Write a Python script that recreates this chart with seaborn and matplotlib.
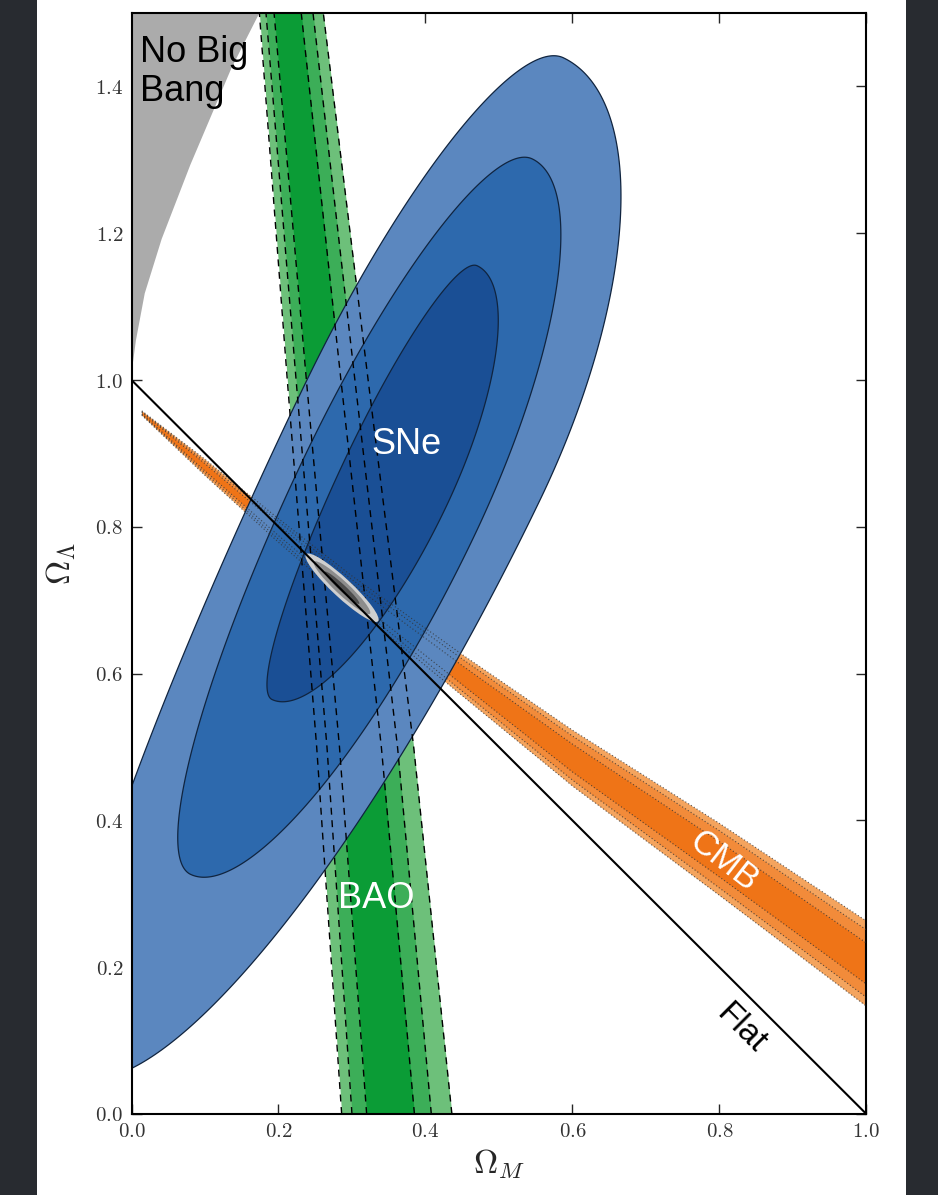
import numpy as np
import matplotlib
matplotlib.use("Agg")
import matplotlib.pyplot as plt
from matplotlib.patches import Ellipse, Rectangle
from matplotlib.ticker import FuncFormatter
import seaborn as sns

# ---------------- data ----------------
# SNe contours: centre, major-axis angle (deg), semi-axes
# (a_up = toward upper right, a_down = toward lower left,
#  b_left = upper-left side, b_right = lower-right side)
sne_levels = ['99.7%', '95%', '68%']
sne_cx = [0.3465, 0.330, 0.3365]
sne_cy = [0.9373, 0.850, 0.8722]
sne_angle = [64.30, 64.50, 64.71]
sne_a_up = [0.5567, 0.500, 0.3135]
sne_a_down = [0.9810, 0.580, 0.3401]
sne_b_left = [0.1243, 0.105, 0.0500]
sne_b_right = [0.2324, 0.150, 0.1020]
sne_colors = ['#5b87bf', '#2d69ad', '#1a4f95']

# BAO band edges: Omega_M at given Omega_Lambda
bao_y = [0.0, 0.5, 1.0, 1.5]
bao_outer_l = [0.286, 0.252, 0.212, 0.174]
bao_outer_r = [0.436, 0.384, 0.322, 0.261]
bao_mid_l = [0.300, 0.266, 0.224, 0.183]
bao_mid_r = [0.408, 0.362, 0.304, 0.247]
bao_in_l = [0.320, 0.283, 0.238, 0.194]
bao_in_r = [0.385, 0.340, 0.285, 0.231]

# CMB band: centre line and half widths (in Omega_Lambda)
cmb_x = [0.014, 0.1, 0.2, 0.3, 0.45, 0.6, 0.8, 1.0]
cmb_c = [0.955, 0.881, 0.795, 0.713, 0.598, 0.485, 0.347, 0.205]
cmb_h_outer = [0.003, 0.011, 0.016, 0.020, 0.028, 0.038, 0.049, 0.058]
cmb_h_mid = [0.002, 0.008, 0.012, 0.015, 0.022, 0.030, 0.039, 0.046]
cmb_h_in = [0.001, 0.005, 0.007, 0.009, 0.013, 0.019, 0.024, 0.028]

# combined constraint
comb_center = (0.2865, 0.717)
comb_a = [0.067, 0.052, 0.032]
comb_b = [0.013, 0.009, 0.0045]
comb_angle = -43.0

# "No Big Bang" boundary
nbb_x = [0.0, 0.002, 0.006, 0.018, 0.041, 0.080, 0.136, 0.174]
nbb_y = [1.0, 1.024, 1.054, 1.118, 1.192, 1.293, 1.425, 1.5]

# flat universe line
flat_x = [0.0, 1.0]
flat_y = [1.0, 0.0]

xticks = [0.0, 0.2, 0.4, 0.6, 0.8, 1.0]
yticks = [0.0, 0.2, 0.4, 0.6, 0.8, 1.0, 1.2, 1.4]


def contour_outline(cx, cy, ang, a_up, a_down, b_left, b_right, n=480):
    """Outline of a four-quadrant ellipse from its parameters."""
    t = np.linspace(0, 2 * np.pi, n)
    u = np.where(np.cos(t) > 0, a_up, a_down) * np.cos(t)
    v = np.where(np.sin(t) > 0, b_left, b_right) * np.sin(t)
    th = np.radians(ang)
    return cx + u * np.cos(th) - v * np.sin(th), cy + u * np.sin(th) + v * np.cos(th)


# ---------------- style ----------------
sns.set_style("ticks")
plt.rcParams['font.family'] = ['Liberation Sans', 'DejaVu Sans']
plt.rcParams['mathtext.fontset'] = 'cm'

fig = plt.figure(figsize=(9.38, 11.95), dpi=100, facecolor='#282b30')
fig.add_artist(Rectangle((37 / 938, 0), (906 - 37) / 938, 1, transform=fig.transFigure,
                         facecolor='white', edgecolor='none', zorder=-5))
ax = fig.add_axes([0.1402, 0.0678, 0.7834, 0.9213])
ax.set_facecolor('white')

# No Big Bang region
ax.fill(list(nbb_x) + [0.0], list(nbb_y) + [1.5], color='#ababab', lw=0, zorder=1)

# BAO bands
for l, r, col in [(bao_outer_l, bao_outer_r, '#6dc07a'), (bao_mid_l, bao_mid_r, '#3cae58'),
                  (bao_in_l, bao_in_r, '#0b9c36')]:
    ax.fill_betweenx(bao_y, l, r, color=col, lw=0, zorder=1)

# CMB bands
cx = np.array(cmb_x); cc = np.array(cmb_c)
for h, col in [(cmb_h_outer, '#f4a45e'), (cmb_h_mid, '#f28b3a'), (cmb_h_in, '#ef7417')]:
    h = np.array(h)
    ax.fill_between(cx, cc - h, cc + h, color=col, lw=0, zorder=1.5)

# SNe contours
for i in range(len(sne_levels)):
    sx, sy = contour_outline(sne_cx[i], sne_cy[i], sne_angle[i], sne_a_up[i], sne_a_down[i],
                             sne_b_left[i], sne_b_right[i])
    ax.fill(sx, sy, facecolor=sne_colors[i], edgecolor='#10243f', lw=0.9, zorder=2 + 0.1 * i)

# BAO dashed edges
for e in [bao_outer_l, bao_outer_r, bao_mid_l, bao_mid_r, bao_in_l, bao_in_r]:
    ax.plot(e, bao_y, color='black', lw=1.0, ls=(0, (5, 4)), zorder=3)

# CMB dotted edges
for h in [cmb_h_outer, cmb_h_mid, cmb_h_in]:
    h = np.array(h)
    for s in (-1, 1):
        ax.plot(cx, cc + s * h, color='#333333', lw=0.8, ls=(0, (1, 2)), zorder=3, alpha=0.8)

# combined constraint
for a, b, col in zip(comb_a, comb_b, ['#cfcfcf', '#8c8c8c', '#4d4d4d']):
    ax.add_patch(Ellipse(comb_center, 2 * a, 2 * b, angle=comb_angle, facecolor=col,
                         edgecolor='none', zorder=4))

# flat line
sns.lineplot(x=flat_x, y=flat_y, color='black', lw=1.5, ax=ax, zorder=5)

# labels
ax.text(0.012, 1.47, 'No Big\nBang', fontsize=26, va='top', ha='left', color='black',
        linespacing=1.15, zorder=6)
ax.text(0.374, 0.912, 'SNe', fontsize=26, color='white', ha='center', va='center', zorder=6)
ax.text(0.333, 0.294, 'BAO', fontsize=26, color='white', ha='center', va='center', zorder=6)
ax.text(0.806, 0.345, 'CMB', fontsize=25, color='white', ha='center', va='center', rotation=-38, zorder=6)
ax.text(0.829, 0.116, 'Flat', fontsize=24, color='black', ha='center', va='center', rotation=-45, zorder=6)

ax.set_xlim(0, 1)
ax.set_ylim(0, 1.5)
ax.set_xticks(xticks)
ax.set_yticks(yticks)
fmt = FuncFormatter(lambda v, p: "$%.1f$" % v)
ax.xaxis.set_major_formatter(fmt)
ax.yaxis.set_major_formatter(fmt)
ax.tick_params(direction='in', length=7, width=1, top=True, right=True, labelsize=15,
               labelcolor='#333333', pad=6)
for s in ax.spines.values():
    s.set_linewidth(1.5)
    s.set_color('black')
ax.set_xlabel(r"$\Omega_M$", fontsize=24, labelpad=4)
ax.set_ylabel(r"$\Omega_\Lambda$", fontsize=24, labelpad=12)

fig.savefig("out.png", dpi=100, facecolor=fig.get_facecolor())
